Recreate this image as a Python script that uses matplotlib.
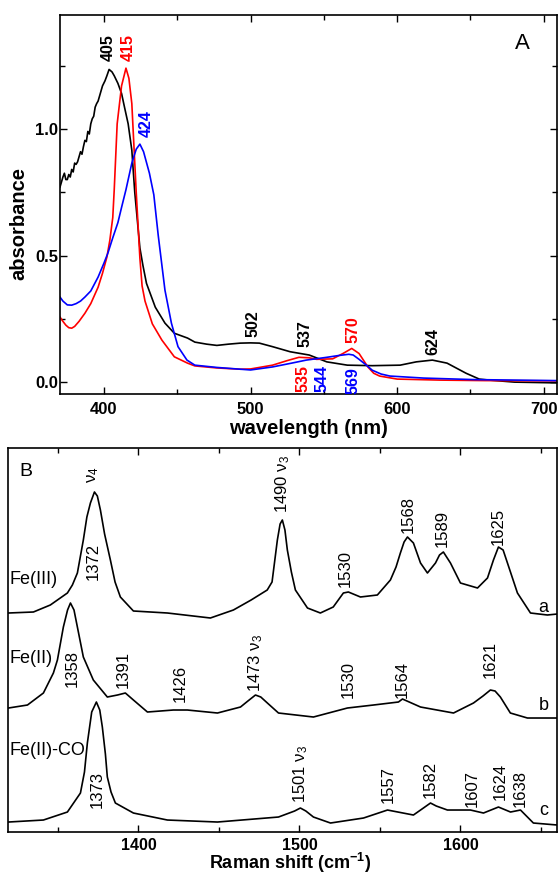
import matplotlib
matplotlib.use('Agg')
import matplotlib.pyplot as plt
from matplotlib.ticker import MultipleLocator, FormatStrFormatter

plt.rcParams['font.family'] = ['Liberation Sans', 'DejaVu Sans']
plt.rcParams['mathtext.fontset'] = 'custom'
plt.rcParams['mathtext.rm'] = 'Liberation Sans'
plt.rcParams['mathtext.it'] = 'Liberation Sans:italic'
plt.rcParams['mathtext.bf'] = 'Liberation Sans:bold'

# ---------------- Panel A data: UV-vis absorbance ----------------
wl_black = [370, 371, 372, 373, 374, 375, 376, 377, 378, 379, 380, 381, 382, 383, 384, 385, 386, 387,
            388, 389, 390, 391, 392, 393, 394, 395, 396, 397, 398, 399, 400.7, 402, 403.5, 405.5, 407,
            409.5, 412, 414, 416.5, 419, 421, 424.5, 426.6, 429, 435, 441.6, 448, 457, 462, 470, 477,
            485, 493, 500, 506, 515, 527, 540, 552, 566, 583, 602, 613, 624, 634, 647, 656, 663, 680, 709]
abs_black = [0.77, 0.79, 0.81, 0.825, 0.80, 0.80, 0.82, 0.81, 0.84, 0.83, 0.865, 0.86, 0.87, 0.89, 0.91,
             0.90, 0.93, 0.955, 0.95, 0.99, 0.98, 1.02, 1.04, 1.05, 1.086, 1.10, 1.11, 1.13, 1.15, 1.17,
             1.19, 1.21, 1.235, 1.225, 1.21, 1.18, 1.14, 1.086, 1.02, 0.916, 0.75, 0.53, 0.46, 0.39,
             0.296, 0.233, 0.193, 0.174, 0.158, 0.15, 0.145, 0.15, 0.154, 0.155, 0.154, 0.14, 0.12, 0.107,
             0.08, 0.067, 0.065, 0.067, 0.08, 0.087, 0.075, 0.035, 0.012, 0.008, 0.0, -0.003]

wl_red = [370, 372, 374, 376, 378, 380, 383, 387, 391, 396, 399, 402, 404, 406, 407, 409, 412, 415,
          417, 419, 422, 424.5, 426, 428, 433, 439.5, 448, 457, 462, 477, 493, 500, 515, 525, 533, 540,
          545, 556, 563, 569, 574, 580, 584, 588, 600, 629, 660, 709]
abs_red = [0.257, 0.24, 0.225, 0.215, 0.213, 0.22, 0.24, 0.272, 0.31, 0.375, 0.43, 0.494, 0.56, 0.65,
           0.76, 1.02, 1.17, 1.24, 1.2, 1.1, 0.75, 0.49, 0.38, 0.32, 0.23, 0.166, 0.1, 0.075, 0.064,
           0.056, 0.051, 0.052, 0.067, 0.085, 0.098, 0.096, 0.09, 0.092, 0.113, 0.133, 0.113, 0.06,
           0.035, 0.024, 0.012, 0.008, 0.006, 0.005]

wl_blue = [370, 372, 375, 378, 381, 384, 387, 391, 396, 400, 402.7, 406, 409.5, 412, 415, 419, 422,
           424.5, 427, 431, 434, 437, 441.6, 446, 450.5, 456.6, 462, 477, 493, 500, 515, 528, 538, 552,
           560, 567, 570, 574, 579, 583, 589, 595, 618, 652, 709]
abs_blue = [0.336, 0.32, 0.305, 0.304, 0.31, 0.32, 0.336, 0.36, 0.415, 0.47, 0.51, 0.57, 0.63, 0.69,
            0.76, 0.865, 0.92, 0.94, 0.91, 0.825, 0.74, 0.58, 0.363, 0.233, 0.14, 0.087, 0.067, 0.058,
            0.051, 0.048, 0.06, 0.075, 0.087, 0.098, 0.105, 0.11, 0.107, 0.09, 0.067, 0.047, 0.032,
            0.024, 0.016, 0.01, 0.006]

# peak labels (text, x, y, colour, vertical anchor)
a_labels = [('405', 402.7, 1.27, 'black', 'bottom'),
            ('415', 416.4, 1.27, 'red', 'bottom'),
            ('424', 428.6, 0.967, 'blue', 'bottom'),
            ('502', 501.6, 0.178, 'black', 'bottom'),
            ('537', 537.0, 0.138, 'black', 'bottom'),
            ('570', 569.7, 0.154, 'red', 'bottom'),
            ('624', 624.0, 0.107, 'black', 'bottom'),
            ('535', 535.6, 0.067, 'red', 'top'),
            ('544', 548.6, 0.067, 'blue', 'top'),
            ('569', 569.7, 0.060, 'blue', 'top')]

# ---------------- Panel B data: resonance Raman ----------------
rs_a = [1319.3, 1334.8, 1345.3, 1355.9, 1359, 1362.1, 1365.8, 1368, 1370.2, 1372.7, 1374.5, 1376.4,
        1379, 1382.6, 1385.5, 1388.8, 1396.9, 1418, 1444.7, 1459, 1470, 1480, 1483, 1486.3, 1488,
        1489.4, 1491, 1492.5, 1495, 1497.5, 1505, 1513, 1521, 1527.3, 1530.4, 1537.9, 1548.4, 1556.5,
        1560, 1562.7, 1565, 1567.1, 1570.8, 1575.2, 1579.5, 1584.5, 1587, 1589.4, 1593.8, 1600,
        1610.6, 1616.8, 1620.5, 1623.6, 1626.5, 1629.2, 1635.4, 1643.5, 1654, 1660.2]
int_a = [219, 220, 227, 239, 247, 259, 292, 315, 329, 340, 336, 322, 298, 272, 250, 235, 221, 219, 214,
         222, 232, 242, 250, 292, 308, 312, 302, 282, 260, 242, 224, 219, 225, 239, 240, 235, 237, 252,
         265, 279, 290, 295, 289, 269, 259, 269, 277, 280, 269, 249, 244, 254, 272, 285, 282, 269, 239,
         219, 217, 218]

rs_b = [1319.3, 1331.1, 1341, 1347.2, 1349.7, 1353.4, 1356, 1357.8, 1360, 1362.1, 1365.8, 1372,
        1380.7, 1387, 1391.9, 1396.9, 1405.6, 1421.7, 1430.4, 1449.1, 1463.4, 1468, 1472.7, 1476,
        1480.1, 1487, 1508.7, 1529.8, 1546, 1561.5, 1564, 1575.2, 1595.7, 1608.1, 1614, 1618.6, 1621.5,
        1624.8, 1631, 1641.6, 1660.2]
int_b = [124, 127, 139, 159, 172, 205, 222, 229, 222, 205, 175, 152, 135, 137, 139, 132, 120, 122, 122,
         119, 125, 131, 137, 135, 129, 119, 115, 124, 127, 130, 133, 125, 119, 129, 136, 142, 141, 135,
         119, 114, 114]

rs_c = [1319.3, 1341, 1355.9, 1364, 1366.5, 1368.3, 1371, 1373.9, 1376, 1377.6, 1379.5, 1380.7, 1383,
        1385.7, 1396.9, 1418, 1449.1, 1487, 1497, 1500.6, 1504, 1508.7, 1519.3, 1539.8, 1554.7,
        1570.8, 1577, 1581.4, 1585, 1591.9, 1606.2, 1614.3, 1623.6, 1631.1, 1637.3, 1645.3, 1660.2]
int_c = [10, 12, 20, 39, 60, 89, 120, 130, 122, 105, 78, 55, 40, 29, 19, 12, 10, 15, 21, 24, 21, 15, 9,
         14, 22, 17, 24, 29, 26, 22, 22, 19, 25, 20, 22, 9, 7]

# band labels (text, x, y)
b_labels = [(r'$\mathregular{ν_4}$', 1372.0, 349),
            ('1372', 1372.0, 252),
            (r'1490 $\mathregular{ν_3}$', 1489.4, 319),
            ('1530', 1528.6, 245),
            ('1568', 1567.7, 299),
            ('1589', 1588.8, 285),
            ('1625', 1623.6, 287),
            ('1358', 1359.0, 145),
            ('1391', 1390.7, 144),
            ('1426', 1426.0, 130),
            (r'1473 $\mathregular{ν_3}$', 1472.7, 140),
            ('1530', 1530.4, 134),
            ('1564', 1564.0, 134),
            ('1621', 1618.6, 154),
            ('1373', 1374.5, 24),
            (r'1501 $\mathregular{ν_3}$', 1500.6, 29),
            ('1557', 1555.3, 29),
            ('1582', 1581.4, 34),
            ('1607', 1607.5, 25),
            ('1624', 1624.8, 32),
            ('1638', 1637.3, 25)]
trace_names = [('Fe(III)', 252), ('Fe(II)', 174), ('Fe(II)-CO', 82)]
trace_letters = [('a', 225), ('b', 127), ('c', 22)]

# ---------------- Figure ----------------
fig = plt.figure(figsize=(5.58, 8.76), dpi=100)
fig.patch.set_facecolor('white')

axA = fig.add_axes([0.1075, 0.5502, 0.8907, 0.4327])
axA.plot(wl_black, abs_black, color='black', lw=1.2)
axA.plot(wl_red, abs_red, color='#ff0000', lw=1.2)
axA.plot(wl_blue, abs_blue, color='#0000ff', lw=1.2)
axA.set_xlim(370, 709)
axA.set_ylim(-0.047, 1.45)
axA.xaxis.set_major_locator(MultipleLocator(100))
axA.xaxis.set_minor_locator(MultipleLocator(50))
axA.yaxis.set_major_locator(MultipleLocator(0.5))
axA.yaxis.set_minor_locator(MultipleLocator(0.25))
axA.yaxis.set_major_formatter(FormatStrFormatter('%.1f'))
axA.tick_params(which='both', direction='in', top=True, right=True, width=1.0)
axA.tick_params(which='major', length=5)
axA.tick_params(which='minor', length=3.5)
axA.tick_params(axis='x', which='major', pad=6)
axA.tick_params(axis='y', which='major', pad=1.5)
for lab in axA.get_xticklabels() + axA.get_yticklabels():
    lab.set_fontweight('bold')
    lab.set_fontsize(12)
for sp in axA.spines.values():
    sp.set_linewidth(1.2)
axA.set_xlabel('wavelength (nm)', fontsize=14.5, fontweight='bold', va='baseline')
axA.xaxis.set_label_coords(0.501, -0.106)
axA.set_ylabel('absorbance', fontsize=14.5, fontweight='bold')
axA.yaxis.set_label_coords(-0.064, 0.449)
for txt, x, y, c, va in a_labels:
    axA.text(x, y, txt, rotation=90, ha='center', va=va, color=c,
             fontsize=11.5, fontweight='bold')
axA.text(0.93, 0.925, 'A', transform=axA.transAxes, fontsize=16, ha='center', va='center')

axB = fig.add_axes([0.0143, 0.0502, 0.984, 0.4384])
axB.plot(rs_a, int_a, color='black', lw=1.2)
axB.plot(rs_b, int_b, color='black', lw=1.2)
axB.plot(rs_c, int_c, color='black', lw=1.2)
axB.set_xlim(1319, 1660)
axB.set_ylim(0, 384)
axB.xaxis.set_major_locator(MultipleLocator(100))
axB.xaxis.set_minor_locator(MultipleLocator(50))
axB.set_yticks([])
axB.tick_params(axis='x', which='both', direction='in', top=True, width=1.0)
axB.tick_params(axis='x', which='major', length=5, pad=4)
axB.tick_params(axis='x', which='minor', length=3.5)
for lab in axB.get_xticklabels():
    lab.set_fontweight('bold')
    lab.set_fontsize(11.5)
for sp in axB.spines.values():
    sp.set_linewidth(1.2)
axB.set_xlabel(r'Raman shift (cm$^{\mathbf{-1}}$)', fontsize=13, fontweight='bold', va='baseline')
axB.xaxis.set_label_coords(0.514, -0.097)
for txt, x, y in b_labels:
    axB.text(x, y, txt, rotation=90, ha='center', va='bottom', fontsize=12)
for txt, y in trace_names:
    axB.text(1320.0, y, txt, ha='left', va='center', fontsize=13)
for txt, y in trace_letters:
    axB.text(1651.6, y, txt, ha='center', va='center', fontsize=13)
axB.text(0.02, 0.94, 'B', transform=axB.transAxes, fontsize=14, ha='left', va='center')

fig.savefig('out.png', dpi=100, facecolor='white')
